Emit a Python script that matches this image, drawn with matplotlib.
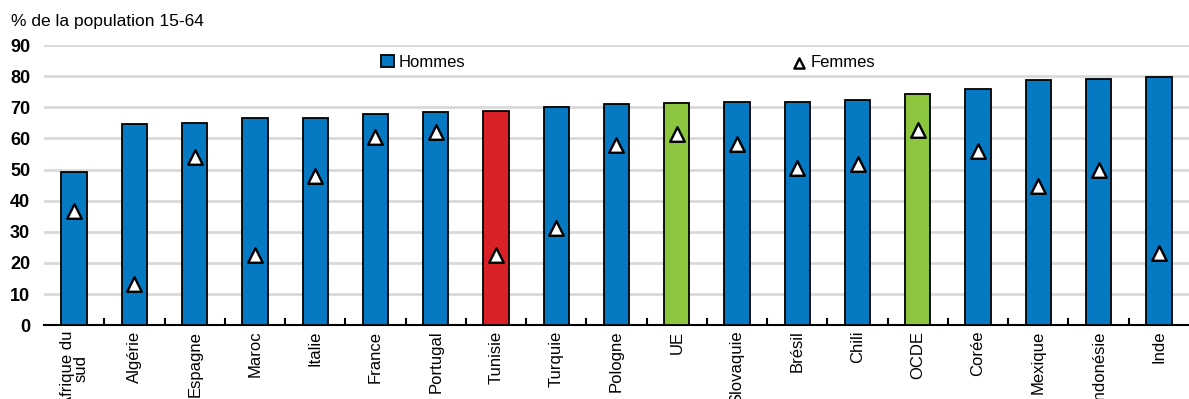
"""
Taux d'activité par sexe : hommes (barres) et femmes (triangles).
"""

import matplotlib.pyplot as plt
import numpy as np


PAYS = [
    "Afrique du\nsud", "Algérie", "Espagne", "Maroc", "Italie", "France",
    "Portugal", "Tunisie", "Turquie", "Pologne", "UE", "Slovaquie",
    "Brésil", "Chili", "OCDE", "Corée", "Mexique", "Indonésie", "Inde"
]

HOMMES = [
    49.2, 64.7, 65.1, 66.5, 66.7, 67.7, 68.6, 68.8, 70.1, 71.2,
    71.5, 71.7, 71.7, 72.5, 74.3, 76.0, 78.8, 79.2, 79.8
]

FEMMES = [
    36.7, 13.1, 54.2, 22.6, 48.0, 60.6, 62.2, 22.4, 31.1, 58.0,
    61.5, 58.2, 50.5, 51.8, 62.7, 56.1, 44.8, 49.9, 23.2
]

BLEU = "#0579c1"
ROUGE = "#da2128"
VERT = "#8cc63f"


def couleur(pays: str) -> str:
    """
    Couleur de la barre selon le pays.
    """
    if pays == "Tunisie":
        return ROUGE
    if pays in ("UE", "OCDE"):
        return VERT
    return BLEU


def main() -> None:
    plt.rcParams["font.family"] = ["Liberation Sans", "DejaVu Sans"]

    fig = plt.figure(figsize=(11.89, 3.99), dpi=100)
    ax = fig.add_axes([0.037, 0.185, 0.963, 0.702])

    x = np.arange(len(PAYS))

    barres = ax.bar(
        x,
        HOMMES,
        width=0.42,
        color=[couleur(p) for p in PAYS],
        edgecolor="black",
        linewidth=1.3,
        zorder=3,
        label="Hommes"
    )

    points = ax.scatter(
        x,
        FEMMES,
        marker="^",
        s=110,
        facecolor="white",
        edgecolor="black",
        linewidth=1.7,
        zorder=4,
        label="Femmes"
    )

    ax.set_xlim(-0.5, len(PAYS) - 0.5)
    ax.set_ylim(0, 90)
    ax.set_yticks(range(0, 91, 10))
    ax.yaxis.grid(True, color="#d9d9d9", linewidth=2, zorder=0)
    ax.set_axisbelow(True)

    for side in ("left", "right", "top"):
        ax.spines[side].set_visible(False)
    ax.spines["bottom"].set_linewidth(1.5)

    ax.tick_params(axis="y", length=0, labelsize=13, pad=10)
    ax.set_yticklabels([str(v) for v in range(0, 91, 10)], fontweight="bold")

    ax.set_xticks(x)
    ax.set_xticklabels(PAYS, rotation=90, fontsize=12, linespacing=0.9)
    ax.tick_params(axis="x", length=0, pad=4)

    ax.set_xticks(np.arange(0.5, len(PAYS) - 0.5, 1), minor=True)
    ax.tick_params(
        axis="x",
        which="minor",
        direction="in",
        length=5,
        width=1.5,
        color="black"
    )

    ax.legend(
        [barres, points],
        ["Hommes", "Femmes"],
        loc="center",
        bbox_to_anchor=(0.51, 0.938),
        ncol=2,
        frameon=False,
        fontsize=12,
        columnspacing=19.6,
        handletextpad=0.3,
        handlelength=0.8,
        markerscale=0.7
    )

    fig.text(
        0.009,
        0.945,
        "% de la population 15-64",
        fontsize=12.5,
        ha="left",
        va="center"
    )

    fig.savefig("out.png", dpi=100)


if __name__ == "__main__":
    main()
